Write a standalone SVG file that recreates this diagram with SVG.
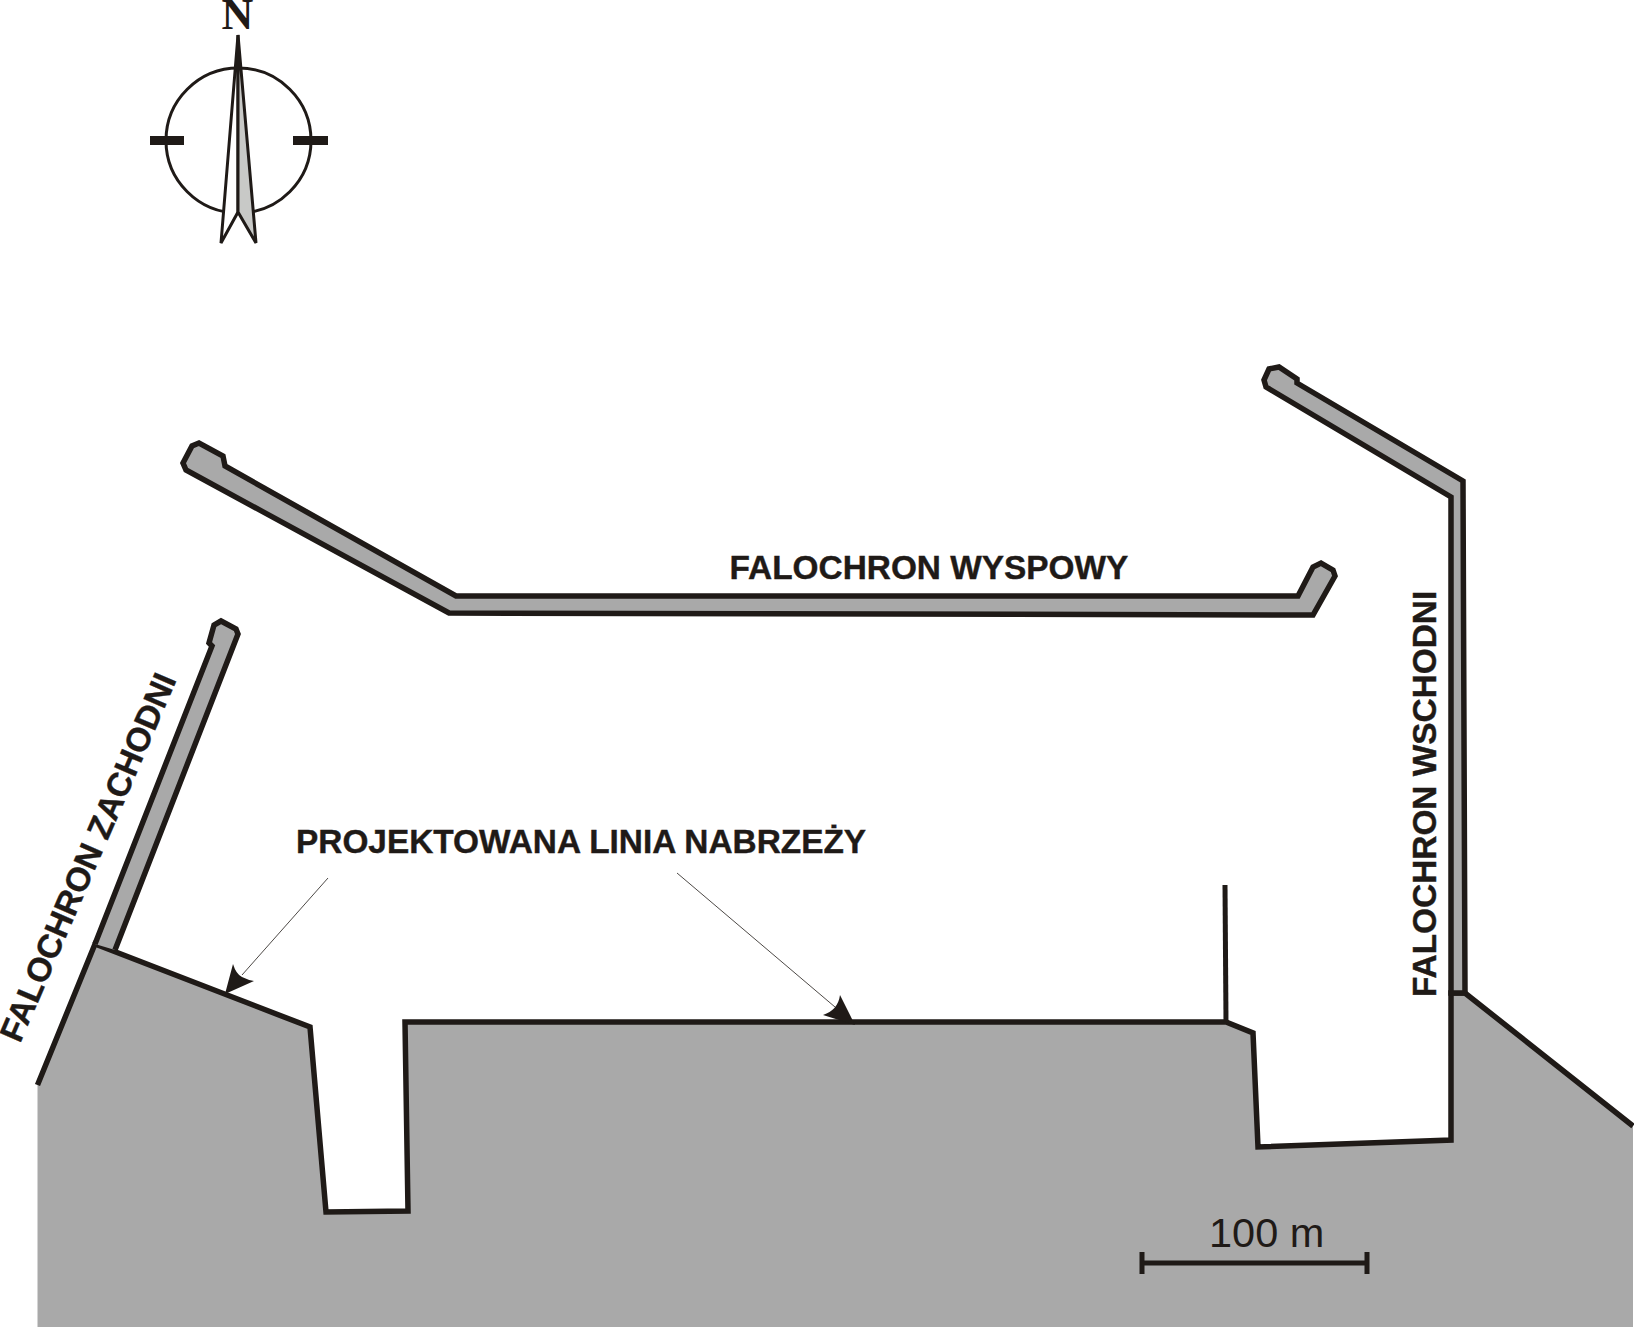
<svg xmlns="http://www.w3.org/2000/svg" width="1634" height="1328" viewBox="0 0 1634 1328">
<style>
.w{fill:#a9a9a9;stroke:#1f1a17;stroke-width:5.500;stroke-linejoin:miter}
.l{fill:none;stroke:#1f1a17;stroke-width:5.500;stroke-linejoin:miter}
.t{font-family:"Liberation Sans",Arial,sans-serif;font-weight:700;font-size:33.400px;fill:#1f1a17;stroke:#1f1a17;stroke-width:.4}
.a{fill:none;stroke:#1f1a17;stroke-width:.8}
.h{fill:#1f1a17;stroke:none}
</style>
<rect width="1634" height="1328" fill="#fff"/>
<g id="land">
<path d="M37.500 1085L95 944L310 1027L326 1212L408 1211L405 1022L1226 1022L1253 1033L1258 1147L1451 1140L1451 993L1465 993L1633 1126L1633 1327L37.500 1327Z" fill="#a9a9a9"/>
<path class="l" d="M37.500 1085L95 944L310 1027L326 1212L408 1211L405 1022L1226 1022L1253 1033L1258 1147L1451 1140L1451 993L1465 993L1633 1126"/>
<path class="l" d="M1225 885L1226 1022" style="stroke-width:5"/>
</g>
<g id="falochron-zachodni">
<path class="w" d="M95 944L212 646L209 643L214 625L221 621L236 629L238 634L115 950"/>
<text class="t" transform="translate(20 1044) rotate(-66.700)">FALOCHRON ZACHODNI</text>
</g>
<g id="falochron-wyspowy">
<path class="w" d="M183 463L192 446L199 443L223 456L225 466L456 596L1298 596L1313 567L1321 563L1333 570L1335 576L1313 615L449 613L186 470Z"/>
<text class="t" x="729.500" y="579">FALOCHRON WYSPOWY</text>
</g>
<g id="falochron-wschodni">
<path class="w" d="M1264 380L1269 369L1279 367L1297 379L1297 383L1463 481L1465 993L1451 993L1451 497L1266 387Z"/>
<text class="t" transform="translate(1436 997) rotate(-90)">FALOCHRON WSCHODNI</text>
</g>
<g id="projektowana-linia">
<text class="t" x="296" y="852.500">PROJEKTOWANA LINIA NABRZEŻY</text>
</g>
<g id="connectors">
<path class="a" d="M328 878L242 975"/>
<path class="h" d="M225 994L233 964Q236 974 242 977Q248 980 254 981Z"/>
<path class="a" d="M677 873L835 1007"/>
<path class="h" d="M855 1025L840 995Q838 1010 823 1015Z"/>
</g>
<g id="compass">
<circle cx="238.500" cy="140.500" r="72.500" fill="#fff" stroke="#1f1a17" stroke-width="3"/>
<rect x="150" y="136" width="34" height="9" fill="#1f1a17"/>
<rect x="293" y="136" width="35" height="9" fill="#1f1a17"/>
<path d="M238 35L221 243L238 212Z" fill="#fff" stroke="#1f1a17" stroke-width="3"/>
<path d="M238 35L256 243L238 212Z" fill="#c8c9c7" stroke="#1f1a17" stroke-width="3"/>
<text x="237.500" y="29" text-anchor="middle" font-family="'Liberation Serif','Times New Roman',serif" font-weight="700" font-size="44" fill="#1f1a17">N</text>
</g>
<g id="scale">
<path d="M1142 1263H1367M1142 1252V1274M1367 1252V1274" fill="none" stroke="#1f1a17" stroke-width="5"/>
<text x="1209" y="1247" font-family="'Liberation Sans',Arial,sans-serif" font-size="41.500" fill="#1f1a17">100 m</text>
</g>
</svg>
